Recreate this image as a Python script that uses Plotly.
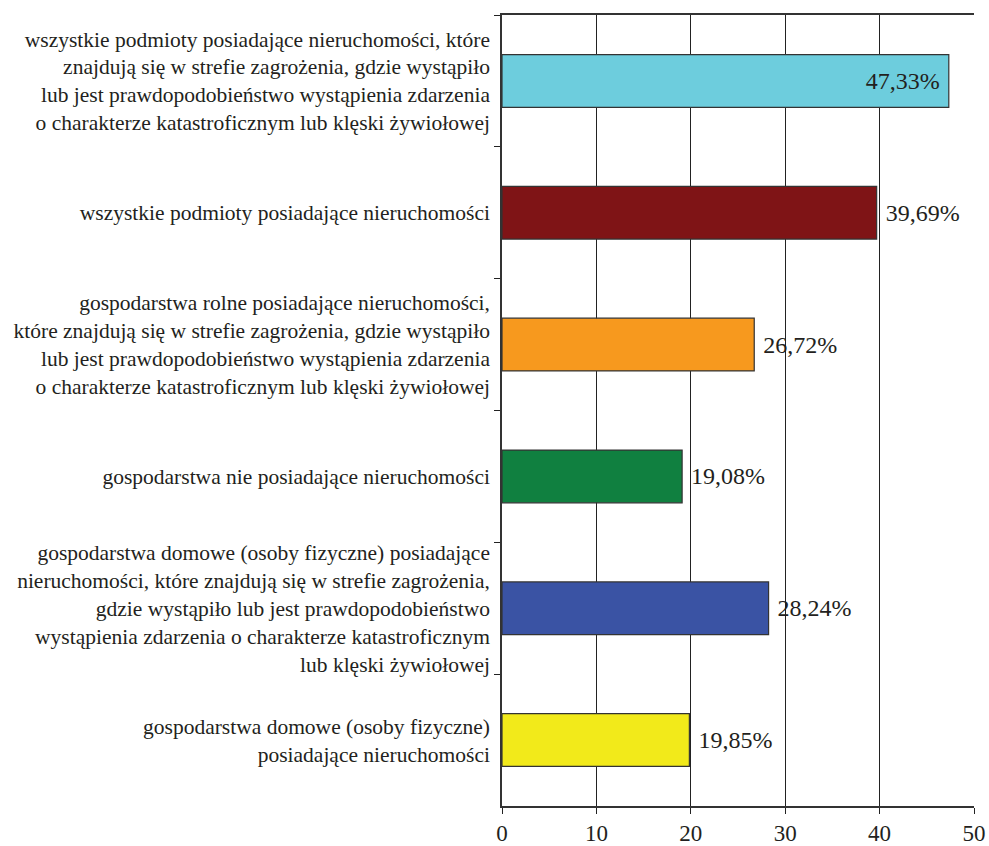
import plotly.graph_objects as go

categories = [
    "wszystkie podmioty posiadające nieruchomości, które<br>znajdują się w strefie zagrożenia, gdzie wystąpiło<br>lub jest prawdopodobieństwo wystąpienia zdarzenia<br>o charakterze katastroficznym lub klęski żywiołowej",
    "wszystkie podmioty posiadające nieruchomości",
    "gospodarstwa rolne posiadające nieruchomości,<br>które znajdują się w strefie zagrożenia, gdzie wystąpiło<br>lub jest prawdopodobieństwo wystąpienia zdarzenia<br>o charakterze katastroficznym lub klęski żywiołowej",
    "gospodarstwa nie posiadające nieruchomości",
    "gospodarstwa domowe (osoby fizyczne) posiadające<br>nieruchomości, które znajdują się w strefie zagrożenia,<br>gdzie wystąpiło lub jest prawdopodobieństwo<br>wystąpienia zdarzenia o charakterze katastroficznym<br>lub klęski żywiołowej",
    "gospodarstwa domowe (osoby fizyczne)<br>posiadające nieruchomości",
]
values = [47.33, 39.69, 26.72, 19.08, 28.24, 19.85]
labels = ["47,33%", "39,69%", "26,72%", "19,08%", "28,24%", "19,85%"]
colors = ["#6DCDDD", "#7F1416", "#F7991E", "#108040", "#3A53A4", "#F2EA1A"]
text_positions = ["inside", "outside", "outside", "outside", "outside", "outside"]
x_ticks = [0, 10, 20, 30, 40, 50]

FONT = "Liberation Serif"
INK = "#231F20"
PAD = "\u00a0"

bar_text = [
    (lbl + PAD) if pos == "inside" else (PAD + lbl)
    for lbl, pos in zip(labels, text_positions)
]

fig = go.Figure(go.Bar(
    y=categories, x=values, orientation="h",
    marker=dict(color=colors, line=dict(color="#333333", width=1.2)),
    text=bar_text, textposition=text_positions, insidetextanchor="end",
    textfont=dict(family=FONT, size=24, color=INK),
    constraintext="none", cliponaxis=False, width=0.4,
))

fig.update_layout(
    width=989, height=846,
    margin=dict(l=502, r=15, t=15, b=40),
    paper_bgcolor="white", plot_bgcolor="white",
    showlegend=False,
    font=dict(family=FONT, size=21.5, color=INK),
)
fig.update_xaxes(
    range=[0, 50], tickvals=x_ticks, ticks="outside", ticklen=6, tickcolor="#222",
    showgrid=True, gridcolor="#222", gridwidth=1.2,
    showline=True, linecolor="#333", linewidth=1.5, mirror=True,
    tickfont=dict(family=FONT, size=23, color=INK), zeroline=False,
    ticklabelstandoff=0, automargin=False,
)
fig.update_yaxes(
    type="category", autorange="reversed", tickson="boundaries",
    ticks="outside", ticklen=6, tickcolor="#222", showgrid=False,
    showline=True, linecolor="#333", linewidth=1.5,
    tickfont=dict(family=FONT, size=21.5, color=INK), ticklabelstandoff=6,
    automargin=False,
)

fig.write_html("out.html")
